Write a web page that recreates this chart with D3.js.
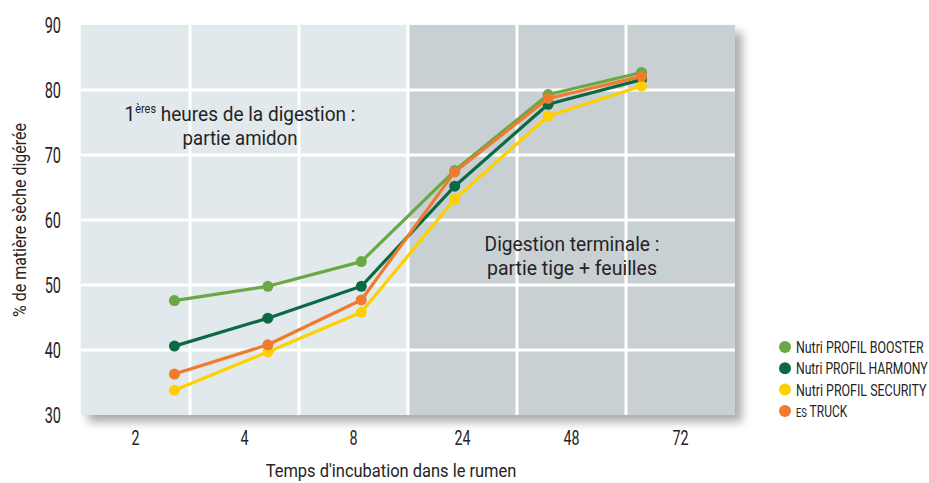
<!DOCTYPE html>
<html>
<head>
<meta charset="utf-8">
<script src="https://cdn.jsdelivr.net/npm/d3@7"></script>
<style>
  body { margin: 0; background: #fff; }
  text { font-family: Roboto, "Open Sans", sans-serif; fill: #262324; }
</style>
</head>
<body>
<svg id="chart" width="929" height="483"></svg>
<script>
// data
var hours = ["2", "4", "8", "24", "48", "72"];
var yTicks = [30, 40, 50, 60, 70, 80, 90];

var booster = [47.6, 49.8, 53.6, 67.6, 79.3, 82.7];
var harmony = [40.6, 44.9, 49.8, 65.2, 77.8, 81.6];
var security = [33.8, 39.7, 45.8, 63.2, 76.0, 80.6];
var truck = [36.3, 40.8, 47.7, 67.4, 78.7, 82.1];

var series = [
  { name: "Nutri PROFIL BOOSTER", color: "#6aa843", values: booster },
  { name: "Nutri PROFIL HARMONY", color: "#0b6a43", values: harmony },
  { name: "Nutri PROFIL SECURITY", color: "#ffd000", values: security },
  { name: "ES TRUCK", color: "#f07a2e", values: truck }
];

var margin = { left: 81, right: 194, top: 25, bottom: 68 };
var width = 929, height = 483;

var svg = d3.select("#chart");

var x = d3.scaleBand().domain(hours).range([margin.left, width - margin.right]);
var xp = d3.scalePoint().domain(hours).range([margin.left, width - margin.right]).padding(1);
var y = d3.scaleLinear().domain([30, 90]).range([height - margin.bottom, margin.top]);

// the original uses a condensed face: squeeze the text horizontally
function squeeze(sel, k) {
  sel.each(function () {
    var t = d3.select(this);
    var tx = +t.attr("x") || 0, ty = +t.attr("y") || 0;
    var base = t.attr("transform") || "";
    t.attr("transform", base + " translate(" + tx + "," + ty + ") scale(" + k + ",1) translate(" + (-tx) + "," + (-ty) + ")");
  });
}
function fitTo(sel, w) {
  var n = sel.node().getBBox().width;
  squeeze(sel, w / n);
}

var defs = svg.append("defs");
var f = defs.append("filter").attr("id", "shadow")
  .attr("x", "-5%").attr("y", "-5%").attr("width", "115%").attr("height", "120%");
f.append("feDropShadow").attr("dx", 7).attr("dy", 7).attr("stdDeviation", 5)
  .attr("flood-color", "#000").attr("flood-opacity", 0.33);

var plotW = x.range()[1] - x.range()[0];
var plotH = y(30) - y(90);

// background with shadow
svg.append("rect")
  .attr("x", x.range()[0]).attr("y", y(90))
  .attr("width", plotW).attr("height", plotH)
  .attr("fill", "#e1e9ec")
  .attr("filter", "url(#shadow)");

// darker zone for the late hours
svg.append("rect")
  .attr("x", x("24")).attr("y", y(90))
  .attr("width", x.range()[1] - x("24")).attr("height", plotH)
  .attr("fill", "#c9d0d3");

// grid
svg.append("g").selectAll("line").data(hours.slice(1)).join("line")
  .attr("x1", function (d) { return x(d); }).attr("x2", function (d) { return x(d); })
  .attr("y1", y(90)).attr("y2", y(30))
  .attr("stroke", "#fff").attr("stroke-width", 3);

svg.append("g").selectAll("line").data(yTicks.slice(1, -1)).join("line")
  .attr("x1", x.range()[0]).attr("x2", x.range()[1])
  .attr("y1", function (d) { return y(d); }).attr("y2", function (d) { return y(d); })
  .attr("stroke", "#fff").attr("stroke-width", 3);

// y axis labels
var yAxis = svg.append("g")
  .attr("transform", "translate(" + (margin.left - 20) + ",0)")
  .call(d3.axisLeft(y).tickValues(yTicks).tickSize(0).tickPadding(0));
yAxis.select(".domain").remove();
yAxis.attr("font-family", null).attr("font-size", null);
yAxis.selectAll("text").attr("font-size", 22).attr("dy", "0.36em").attr("fill", "#262324");
squeeze(yAxis.selectAll("text"), 0.66);

// x axis labels
var xAxis = svg.append("g")
  .attr("transform", "translate(0," + (y(30) + 15) + ")")
  .call(d3.axisBottom(x).tickSize(0).tickPadding(0));
xAxis.select(".domain").remove();
xAxis.attr("font-family", null).attr("font-size", null);
xAxis.selectAll("text").attr("font-size", 21).attr("fill", "#262324");
squeeze(xAxis.selectAll("text"), 0.68);

// axis titles
var yt = svg.append("text")
  .attr("transform", "translate(26,220) rotate(-90)")
  .attr("text-anchor", "middle").attr("font-size", 19)
  .text("% de matière sèche digérée");
fitTo(yt, 194);

var xt = svg.append("text")
  .attr("x", 391).attr("y", 477)
  .attr("text-anchor", "middle").attr("font-size", 18.5)
  .text("Temps d'incubation dans le rumen");
fitTo(xt, 251);

// annotations
var a1 = svg.append("text").attr("x", 240).attr("y", 121).attr("text-anchor", "middle").attr("font-size", 21);
a1.append("tspan").text("1");
a1.append("tspan").attr("font-size", 12).attr("dy", -8).text("ères");
a1.append("tspan").attr("dy", 8).text(" heures de la digestion :");
fitTo(a1, 231);

var a1b = svg.append("text").attr("x", 240).attr("y", 145).attr("text-anchor", "middle").attr("font-size", 21)
  .text("partie amidon");
fitTo(a1b, 115);

var a2 = svg.append("text").attr("x", 572).attr("y", 251).attr("text-anchor", "middle").attr("font-size", 21)
  .text("Digestion terminale :");
fitTo(a2, 175);
var a2b = svg.append("text").attr("x", 572).attr("y", 275).attr("text-anchor", "middle").attr("font-size", 21)
  .text("partie tige + feuilles");
fitTo(a2b, 170);

// lines and points
var line = d3.line()
  .x(function (d, i) { return xp(hours[i]); })
  .y(function (d) { return y(d); });

var g = svg.append("g");
series.forEach(function (s) {
  g.append("path").datum(s.values)
    .attr("d", line).attr("fill", "none")
    .attr("stroke", s.color).attr("stroke-width", 3.2)
    .attr("stroke-linejoin", "round");
  g.selectAll(null).data(s.values).join("circle")
    .attr("cx", function (d, i) { return xp(hours[i]); })
    .attr("cy", function (d) { return y(d); })
    .attr("r", 5.5).attr("fill", s.color);
});

// legend
var legendWidths = [128, 132, 131, 52];
var leg = svg.append("g").attr("transform", "translate(785,347)");
var items = leg.selectAll("g").data(series).join("g")
  .attr("transform", function (d, i) { return "translate(0," + (i * 21.3) + ")"; });
items.append("circle").attr("r", 6).attr("fill", function (d) { return d.color; });
items.each(function (d, i) {
  var t = d3.select(this).append("text").attr("x", 11).attr("y", 6).attr("font-size", 16);
  if (d.name === "ES TRUCK") {
    t.append("tspan").attr("font-size", 12.5).text("ES");
    t.append("tspan").text(" TRUCK");
  } else {
    t.text(d.name);
  }
  fitTo(t, legendWidths[i]);
});
</script>
</body>
</html>
